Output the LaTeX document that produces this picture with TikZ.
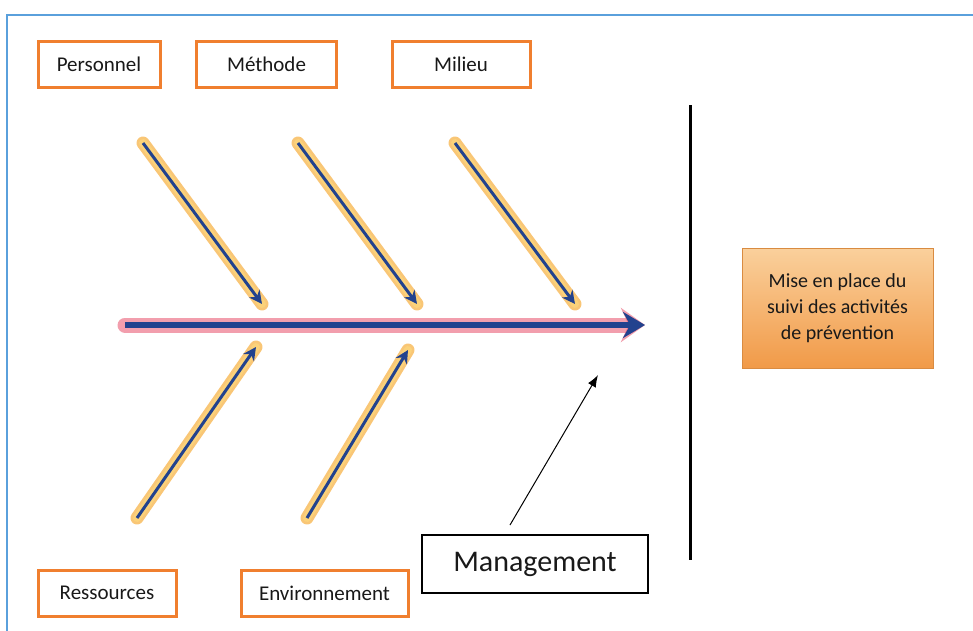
\documentclass[tikz,border=0pt]{standalone}
\usepackage{fontspec}
\setmainfont{Carlito}
\usetikzlibrary{arrows.meta}
\definecolor{boxorange}{HTML}{F07F2F}
\definecolor{glowc}{HTML}{F7AE3C}
\definecolor{glowin}{HTML}{FBD27A}
\definecolor{arrowblue}{HTML}{22428E}
\definecolor{spineglow}{HTML}{E8506A}
\definecolor{frameblue}{HTML}{5AA0DC}
\definecolor{outtop}{HTML}{FAD09C}
\definecolor{outbot}{HTML}{F19A48}
\begin{document}
\begin{tikzpicture}[x=1pt,y=-1pt,
  catbox/.style={draw=boxorange, line width=3pt, fill=white, minimum height=46pt, inner sep=0pt,
     font=\fontsize{21}{24}\selectfont, text=black!90},
  glowline/.style={line width=13pt, glowc, opacity=0.7, line cap=round},
  glowinner/.style={line width=8pt, glowin, line cap=round},
  bone/.style={line width=3pt, arrowblue, -{Stealth[length=13pt,width=13pt]}},
  spineglowst/.style={line width=15pt, spineglow, opacity=0.55, line cap=round, -{Stealth[length=24pt,width=34pt]}},
  spinest/.style={line width=6pt, arrowblue, -{Stealth[length=22pt,width=26pt]}}
]
\useasboundingbox (0,0) rectangle (973,630);
\fill[white] (0,0) rectangle (973,630);
\draw[frameblue, line width=1.5pt] (7,640) -- (7,15) -- (980,15);

% category boxes
\node[catbox, minimum width=122pt] (pers) at (99,64) {Personnel};
\node[catbox, minimum width=140pt] (meth) at (266.5,64) {Méthode};
\node[catbox, minimum width=138pt] (mil) at (461,64) {Milieu};
\node[catbox, minimum width=138pt] (res) at (107,593) {Ressources};
\node[catbox, minimum width=167pt] (env) at (324.5,593) {Environnement};
\node[draw=black, line width=2.5pt, fill=white, minimum width=226pt, minimum height=58pt, inner sep=0pt,
      font=\fontsize{30}{34}\selectfont, text=black!90] (man) at (535,564) {\raisebox{-3pt}{Management}};

% effect box
\node[shade, top color=outtop, bottom color=outbot, draw=outbot!90!black, line width=0.6pt,
      minimum width=191pt, minimum height=120pt, align=center, inner sep=0pt,
      font=\fontsize{20}{26}\selectfont, text=black!90] (eff) at (837.5,308)
      {Mise en place du\\suivi des activités\\de prévention};

% coordinates
\coordinate (t1s) at (143,143); \coordinate (t1e) at (262,304);
\coordinate (t2s) at (298,143); \coordinate (t2e) at (417,304);
\coordinate (t3s) at (455,143); \coordinate (t3e) at (575,304);
\coordinate (b1s) at (137,518); \coordinate (b1e) at (256,347);
\coordinate (b2s) at (307,518); \coordinate (b2e) at (408,350);
\coordinate (sps) at (125,325); \coordinate (spe) at (645,325);
\coordinate (vt) at (690,105); \coordinate (vb) at (690,560);
\coordinate (mtip) at (598,375);
\coordinate (ms) at (510,525);

% glows
\foreach \a/\b in {t1s/t1e,t2s/t2e,t3s/t3e,b1s/b1e,b2s/b2e}{
  \draw[glowline] (\a) -- (\b);
  \draw[glowinner] (\a) -- (\b);}
\draw[spineglowst] (sps) -- (spe);

% bones
\foreach \a/\b in {t1s/t1e,t2s/t2e,t3s/t3e,b1s/b1e,b2s/b2e}
  \draw[bone] (\a) -- (\b);
\draw[spinest] (sps) -- (spe);

% vertical bar
\draw[black, line width=3pt] (vt) -- (vb);

% management arrow
\draw[black, line width=1pt, -{Latex[length=12pt,width=9pt]}] (ms) -- (mtip);
\end{tikzpicture}
\end{document}
